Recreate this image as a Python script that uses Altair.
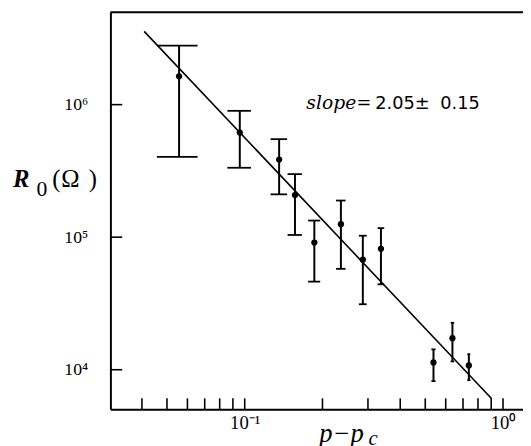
import altair as alt
import pandas as pd

# ---- data ----
p_minus_pc = [0.0557, 0.0957, 0.1359, 0.1565, 0.1860, 0.2357, 0.2866, 0.3368, 0.538, 0.637, 0.7374]
r0 = [1.635e6, 6.16e5, 3.85e5, 2.08e5, 9.1e4, 1.254e5, 6.77e4, 8.17e4, 1.135e4, 1.73e4, 1.078e4]
r0_hi = [2.79e6, 8.98e5, 5.49e5, 2.99e5, 1.335e5, 1.89e5, 1.026e5, 1.17e5, 1.425e4, 2.26e4, 1.31e4]
r0_lo = [4.04e5, 3.34e5, 2.105e5, 1.039e5, 4.62e4, 5.77e4, 3.12e4, 4.41e4, 8.2e3, 1.155e4, 8.34e3]
x_err = 0.01
fit_x = [0.0408, 0.9024]
fit_y = [3.57e6, 6.06e3]
x_tick_values = [0.04, 0.05, 0.06, 0.07, 0.08, 0.09, 0.1, 0.2, 0.3, 0.4, 0.5, 0.6, 0.7, 0.8, 0.9, 1.0]
y_tick_values = [1e4, 1e5, 1e6]
x_label_values = [0.1, 1.0]

W, H = 419, 403
SERIF = "Liberation Serif"

pts = pd.DataFrame({"x": p_minus_pc, "y": r0, "hi": r0_hi, "lo": r0_lo})
pts["xl"] = pts["x"] - x_err
pts["xr"] = pts["x"] + x_err
fit = pd.DataFrame({"x": fit_x, "y": fit_y})
xt = pd.DataFrame({"x": x_tick_values})
yt = pd.DataFrame({"y": y_tick_values})

xs = alt.Scale(type="log", domain=[0.0302, 1.195], nice=False, zero=False)
ys = alt.Scale(type="log", domain=[5040, 4.97e6], nice=False, zero=False)

x_axis = alt.Axis(values=x_label_values, title=None, grid=False, tickSize=0,
                  labelExpr="datum.value < 0.5 ? '10⁻¹' : '10⁰'",
                  labelFont=SERIF, labelFontSize=19, labelColor="black",
                  labelPadding=5, domainColor="black", domainWidth=2, labelFlush=False)
y_axis = alt.Axis(values=y_tick_values, title=None, grid=False, tickSize=0,
                  labelExpr="datum.value >= 5e5 ? '10⁶' : (datum.value >= 5e4 ? '10⁵' : '10⁴')",
                  labelFont=SERIF, labelFontSize=18, labelColor="black",
                  labelPadding=23, domainColor="black", domainWidth=2, labelFlush=False)


def X(f):
    return alt.X(f, scale=xs, axis=x_axis)


def Y(f):
    return alt.Y(f, scale=ys, axis=y_axis)


base = alt.Chart(pts)

vbars = base.mark_rule(color="black", strokeWidth=2).encode(
    x=X("x:Q"), y=Y("lo:Q"), y2="hi:Q",
)
cap_hi = base.mark_rule(color="black", strokeWidth=1.8).encode(
    x=X("xl:Q"), x2="xr:Q", y=Y("hi:Q"),
)
cap_lo = base.mark_rule(color="black", strokeWidth=1.8).encode(
    x=X("xl:Q"), x2="xr:Q", y=Y("lo:Q"),
)
dots = base.mark_circle(color="black", opacity=1, size=40).encode(
    x=X("x:Q"), y=Y("y:Q"),
)
line = alt.Chart(fit).mark_line(color="black", strokeWidth=1.6).encode(
    x=X("x:Q"), y=Y("y:Q"),
)
xticks = alt.Chart(xt).mark_rule(color="black", strokeWidth=1.6).encode(
    x=X("x:Q"), y=alt.value(H), y2=alt.value(H - 11),
)
yticks = alt.Chart(yt).mark_rule(color="black", strokeWidth=1.6).encode(
    y=Y("y:Q"), x=alt.value(0), x2=alt.value(12),
)
top_frame = alt.Chart(pd.DataFrame({"a": [0]})).mark_rule(color="black", strokeWidth=2).encode(
    x=alt.value(0), x2=alt.value(W), y=alt.value(0),
)


def label(txt, x, y, size, font=SERIF, style="normal", weight="normal"):
    return alt.Chart(pd.DataFrame({"a": [0]})).mark_text(
        text=txt, font=font, fontSize=size, fontStyle=style, fontWeight=weight,
        align="left", baseline="alphabetic", color="black",
    ).encode(x=alt.value(x), y=alt.value(y))


texts = [
    label("R", -99, 177, 25, style="italic", weight="bold"),
    label("0", -75, 187, 22),
    label("(", -59, 177, 25),
    label("Ω", -50, 177, 25),
    label(")", -22, 177, 25),
    label("slope", 199, 98, 19, font="DejaVu Serif", style="italic"),
    label("=", 250, 98, 18, font="DejaVu Serif"),
    label("2.05±", 269, 98, 18, font="DejaVu Sans"),
    label("0.15", 335, 98, 18, font="DejaVu Sans"),
    label("p−p", 212, 436, 27, style="italic"),
    label("c", 262, 439, 21, style="italic"),
]

chart = alt.layer(vbars, cap_hi, cap_lo, dots, line, xticks, yticks, top_frame, *texts).properties(
    width=W, height=H,
    autosize=alt.AutoSizeParams(type="none"),
    padding={"left": 104, "top": 1, "right": 0, "bottom": 34},
).configure_view(stroke=None)

chart.save("out.html", embed_options={"renderer": "svg", "actions": False})
